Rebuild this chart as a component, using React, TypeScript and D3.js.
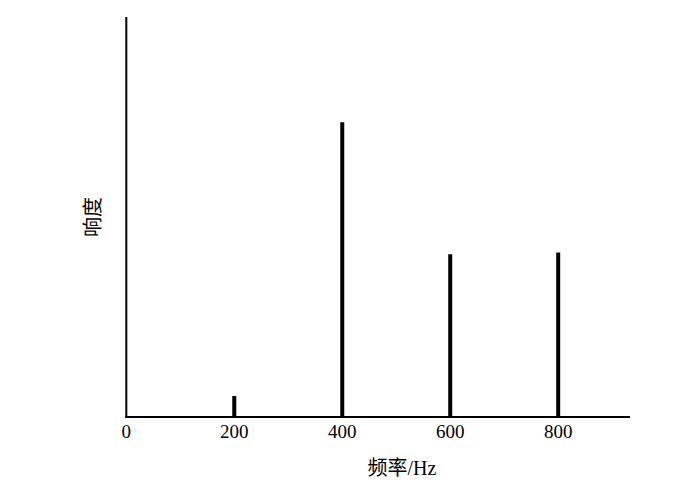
import React from "react";
import * as d3 from "d3";

const frequencies = [200, 400, 600, 800];
const responses = [0.0525, 0.737, 0.407, 0.411];
const xTicks = [0, 200, 400, 600, 800];
const xLabel = "频率/Hz";
const yLabel = "响度";

const W = 690;
const H = 496;
const margin = { left: 126.3, top: 17, right: 60, bottom: 79 };

export default function App() {
  const x = d3.scaleLinear().domain([0, 933]).range([margin.left, W - margin.right]);
  const y = d3.scaleLinear().domain([0, 1]).range([H - margin.bottom, margin.top]);
  const font = "'Liberation Serif', 'Times New Roman', 'Noto Sans CJK SC', serif";
  const y0 = y(0);
  return (
    <svg width={W} height={H} style={{ position: "absolute", left: 0, top: 0, background: "#fff" }}>
      {frequencies.map((f, i) => (
        <line key={f} x1={x(f)} x2={x(f)} y1={y0} y2={y(responses[i])} stroke="#000" strokeWidth={4} />
      ))}
      <line x1={x(0)} x2={x(0)} y1={y(1)} y2={y0 + 1} stroke="#000" strokeWidth={2} />
      <line x1={x(0) - 1} x2={x(933)} y1={y0} y2={y0} stroke="#000" strokeWidth={2} />
      {xTicks.map((t) => (
        <text key={t} x={x(t)} y={438} textAnchor="middle" fontFamily={font} fontSize={19} fill="#000">
          {t}
        </text>
      ))}
      <text x={402} y={475} textAnchor="middle" fontFamily={font} fontSize={20} fill="#000">
        {xLabel}
      </text>
      <text
        transform={`translate(100, 217) rotate(-90)`}
        textAnchor="middle"
        fontFamily={font}
        fontSize={20}
        fill="#000"
      >
        {yLabel}
      </text>
    </svg>
  );
}
